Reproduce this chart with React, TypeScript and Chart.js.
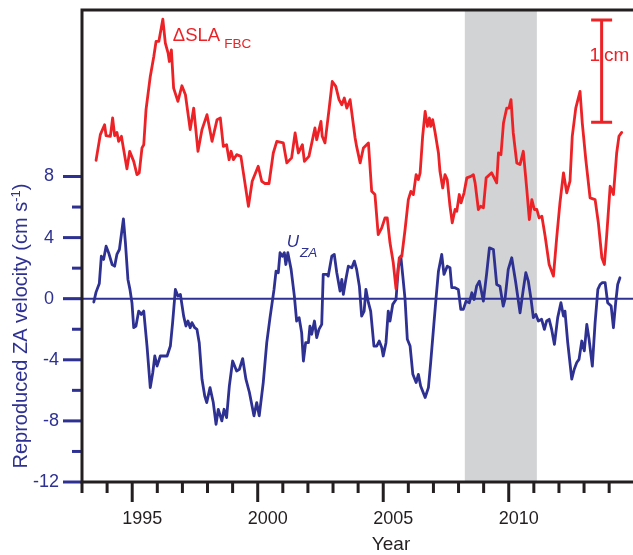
import React, { useEffect, useRef } from 'react';
import { Chart, registerables } from 'chart.js';

Chart.register(...registerables);

// ΔSLA_FBC (red, plotted on the same axis with an arbitrary offset)
const slaYears = [
  1993.56, 1993.73, 1993.90, 1993.96, 1994.13, 1994.22, 1994.30, 1994.39, 1994.46, 1994.57,
  1994.66, 1994.79, 1994.90, 1995.06, 1995.19, 1995.28, 1995.39, 1995.46, 1995.55, 1995.72,
  1995.86, 1995.95, 1996.06, 1996.22, 1996.32, 1996.43, 1996.48, 1996.56, 1996.65, 1996.82,
  1996.98, 1997.12, 1997.31, 1997.45, 1997.62, 1997.78, 1997.98, 1998.18, 1998.38, 1998.51,
  1998.63, 1998.76, 1998.86, 1998.94, 1999.03, 1999.16, 1999.33, 1999.49, 1999.63, 1999.78,
  2000.02, 2000.16, 2000.29, 2000.45, 2000.62, 2000.76, 2001.02, 2001.16, 2001.35, 2001.49,
  2001.62, 2001.78, 2001.86, 2002.04, 2002.28, 2002.35, 2002.52, 2002.57, 2002.68, 2002.84,
  2002.97, 2003.11, 2003.24, 2003.35, 2003.45, 2003.55, 2003.68, 2003.88, 2003.94, 2004.08,
  2004.21, 2004.41, 2004.54, 2004.67, 2004.80, 2004.94, 2005.07, 2005.16, 2005.27, 2005.40,
  2005.51, 2005.64, 2005.74, 2005.87, 2006.00, 2006.10, 2006.20, 2006.31, 2006.40, 2006.47,
  2006.57, 2006.67, 2006.76, 2006.84, 2006.89, 2006.97, 2007.06, 2007.20, 2007.26, 2007.37,
  2007.46, 2007.55, 2007.66, 2007.75, 2007.86, 2007.93, 2008.03, 2008.10, 2008.22, 2008.33,
  2008.49, 2008.59, 2008.66, 2008.79, 2008.88, 2008.99, 2009.10, 2009.32, 2009.52, 2009.59,
  2009.69, 2009.79, 2009.92, 2010.01, 2010.09, 2010.18, 2010.32, 2010.45, 2010.58, 2010.72,
  2010.82, 2010.92, 2011.02, 2011.12, 2011.21, 2011.32, 2011.45, 2011.61, 2011.78, 2011.91,
  2012.04, 2012.18, 2012.31, 2012.44, 2012.53, 2012.67, 2012.84, 2012.93, 2013.07, 2013.24,
  2013.44, 2013.57, 2013.71, 2013.81, 2013.90, 2014.04, 2014.17, 2014.30, 2014.39, 2014.50,
];
const slaValues = [
  9.06, 10.74, 11.39, 10.67, 10.63, 11.83, 10.67, 10.89, 10.30, 10.63,
  9.76, 8.50, 9.65, 8.99, 8.12, 8.24, 9.87, 10.08, 12.37, 14.55,
  15.86, 16.84, 16.84, 18.30, 16.73, 16.08, 15.53, 16.29, 13.79, 12.92,
  13.94, 13.35, 11.07, 12.48, 9.65, 11.07, 12.05, 10.30, 11.72, 11.83,
  9.97, 10.08, 9.10, 9.65, 9.10, 9.43, 9.32, 7.58, 6.05, 7.69,
  8.67, 7.69, 7.54, 7.54, 9.54, 10.30, 10.20, 8.89, 9.22, 10.85,
  9.54, 10.08, 8.99, 9.32, 11.18, 10.41, 11.61, 10.63, 10.20, 12.37,
  14.22, 13.90, 13.03, 12.70, 13.14, 12.48, 13.03, 10.52, 9.97, 8.89,
  9.87, 10.20, 7.03, 6.82, 4.20, 4.64, 5.29, 5.29, 3.66, 2.35,
  0.65, 2.68, 2.78, 4.53, 6.49, 7.03, 6.82, 8.12, 7.80, 8.24,
  10.63, 12.26, 11.28, 11.83, 11.28, 11.72, 10.95, 9.54, 8.34, 7.25,
  8.12, 7.80, 6.05, 4.97, 5.84, 5.73, 6.82, 6.27, 6.93, 7.91,
  8.01, 8.12, 7.58, 5.84, 6.05, 5.95, 7.91, 8.24, 7.58, 9.54,
  9.43, 11.50, 12.48, 12.48, 13.03, 10.85, 8.89, 8.78, 9.65, 7.14,
  5.18, 6.49, 5.84, 5.84, 5.29, 5.40, 4.09, 2.24, 1.48, 3.99,
  6.27, 8.24, 6.93, 7.69, 10.63, 12.48, 13.57, 11.50, 9.10, 6.60,
  6.49, 4.97, 2.68, 2.24, 4.09, 7.36, 6.82, 9.54, 10.63, 10.89,
];

// U_ZA reproduced velocity (blue, cm s-1)
const uzaYears = [
  1993.47, 1993.56, 1993.69, 1993.77, 1993.86, 1993.96, 1994.06, 1994.20, 1994.30, 1994.39,
  1994.49, 1994.65, 1994.73, 1994.83, 1994.91, 1994.99, 1995.06, 1995.15, 1995.26, 1995.36,
  1995.46, 1995.59, 1995.72, 1995.82, 1995.90, 1995.99, 1996.12, 1996.39, 1996.52, 1996.61,
  1996.72, 1996.82, 1996.92, 1997.05, 1997.14, 1997.22, 1997.31, 1997.38, 1997.49, 1997.58,
  1997.67, 1997.78, 1997.89, 1997.97, 1998.10, 1998.23, 1998.34, 1998.43, 1998.57, 1998.66,
  1998.76, 1998.87, 1999.00, 1999.16, 1999.27, 1999.40, 1999.53, 1999.67, 1999.85, 1999.96,
  2000.06, 2000.22, 2000.36, 2000.49, 2000.65, 2000.73, 2000.82, 2000.89, 2000.98, 2001.06,
  2001.12, 2001.20, 2001.33, 2001.46, 2001.55, 2001.65, 2001.75, 2001.82, 2001.91, 2002.02,
  2002.08, 2002.15, 2002.26, 2002.35, 2002.44, 2002.55, 2002.61, 2002.75, 2002.81, 2002.95,
  2003.05, 2003.15, 2003.28, 2003.35, 2003.41, 2003.51, 2003.61, 2003.75, 2003.85, 2003.94,
  2004.05, 2004.14, 2004.24, 2004.31, 2004.41, 2004.50, 2004.63, 2004.74, 2004.84, 2004.94,
  2005.00, 2005.11, 2005.20, 2005.27, 2005.38, 2005.51, 2005.60, 2005.70, 2005.78, 2005.87,
  2005.96, 2006.07, 2006.18, 2006.31, 2006.40, 2006.49, 2006.67, 2006.80, 2006.89, 2007.00,
  2007.10, 2007.20, 2007.33, 2007.42, 2007.55, 2007.66, 2007.73, 2007.86, 2007.99, 2008.09,
  2008.19, 2008.30, 2008.43, 2008.53, 2008.62, 2008.72, 2008.83, 2008.99, 2009.12, 2009.23,
  2009.39, 2009.52, 2009.65, 2009.78, 2009.85, 2009.98, 2010.12, 2010.28, 2010.45, 2010.58,
  2010.68, 2010.78, 2010.89, 2010.98, 2011.08, 2011.18, 2011.31, 2011.42, 2011.51, 2011.61,
  2011.71, 2011.82, 2011.95, 2012.08, 2012.18, 2012.24, 2012.35, 2012.51, 2012.61, 2012.71,
  2012.80, 2012.91, 2013.01, 2013.11, 2013.20, 2013.33, 2013.44, 2013.55, 2013.64, 2013.73,
  2013.84, 2013.94, 2014.08, 2014.17, 2014.26, 2014.34, 2014.43,
];
const uzaValues = [
  -0.22, 0.43, 1.00, 2.78, 2.57, 3.44, 3.01, 2.24, 2.13, 2.90,
  3.22, 5.23, 3.66, 1.26, 0.61, -0.26, -1.90, -1.79, -0.81, -1.03,
  -0.81, -3.10, -5.82, -4.84, -3.75, -4.41, -3.75, -3.75, -3.10, -1.57,
  0.61, 0.17, 0.28, -1.14, -1.79, -1.46, -1.90, -1.57, -1.90, -2.01,
  -2.88, -5.28, -6.37, -6.80, -5.82, -6.80, -8.22, -7.24, -8.00, -7.24,
  -7.78, -5.71, -4.08, -4.73, -4.62, -3.92, -5.27, -6.14, -7.67, -6.80,
  -7.67, -5.49, -2.88, -1.24, 0.61, 1.80, 1.70, 3.01, 2.78, 3.01,
  2.24, 3.01, 1.92, 0.17, -1.46, -1.24, -2.22, -4.08, -2.88, -2.88,
  -1.79, -2.33, -1.46, -2.55, -2.01, -1.68, 1.59, 1.59, 1.48, 2.78,
  2.90, 1.70, 0.50, 1.26, 0.28, 1.26, 2.13, 2.03, 2.46, 1.92,
  0.82, -1.14, -0.81, 0.61, -0.26, -0.81, -3.10, -3.10, -2.77, -3.20,
  -3.75, -2.88, -0.81, -1.46, -0.37, -0.05, 2.03, 2.78, 1.48, -0.05,
  -2.66, -3.10, -4.95, -5.49, -4.95, -5.71, -6.47, -5.82, -4.18, -2.01,
  -0.05, 1.80, 2.90, 1.59, 2.13, 2.03, 0.72, 0.72, 0.61, -0.70,
  -0.70, -0.16, -0.26, 0.39, -0.05, 0.82, 1.15, -0.16, 1.65, 3.33,
  3.22, 0.93, 0.82, -0.48, -0.05, 1.92, 2.68, 1.05, -0.92, 0.61,
  1.70, 1.15, -0.05, -1.24, -1.03, -1.46, -1.35, -2.01, -1.46, -1.35,
  -2.01, -2.99, -1.24, -0.26, -1.14, -0.81, -2.88, -5.27, -4.62, -4.18,
  -3.97, -2.77, -3.42, -1.68, -2.66, -4.41, -1.57, 0.61, 0.93, 1.05,
  1.05, -0.26, -0.48, -1.90, -0.26, 0.93, 1.37,
];

const yTickValues = [-12, -10, -8, -6, -4, -2, 0, 2, 4, 6, 8];
const xTickYears = [
  1993, 1994, 1995, 1996, 1997, 1998, 1999, 2000, 2001, 2002, 2003,
  2004, 2005, 2006, 2007, 2008, 2009, 2010, 2011, 2012, 2013, 2014,
];
const shadeStart = 2008.25;
const shadeEnd = 2011.12;
const scaleBarYear = 2013.7;
const scaleBarBottom = 11.55;
const scaleBarTop = 18.25;

const RED = '#ec2227';
const BLUE = '#2e3192';
const INK = '#231f20';
const GRAY = '#d1d3d4';
const FONT = '"Liberation Sans", Arial, Helvetica, sans-serif';

const decorPlugin = {
  id: 'decor',
  beforeDatasetsDraw(chart: any) {
    const { ctx, chartArea: a, scales } = chart;
    const x = scales.x;
    const y = scales.y;
    ctx.save();
    const x0 = x.getPixelForValue(shadeStart);
    const x1 = x.getPixelForValue(shadeEnd);
    ctx.fillStyle = GRAY;
    ctx.fillRect(x0, a.top, x1 - x0, a.bottom - a.top);
    const y0 = y.getPixelForValue(0);
    ctx.strokeStyle = BLUE;
    ctx.lineWidth = 2;
    ctx.beginPath();
    ctx.moveTo(a.left - 19, y0);
    ctx.lineTo(a.right, y0);
    ctx.stroke();
    ctx.restore();
  },
  afterDatasetsDraw(chart: any) {
    const { ctx, chartArea: a, scales } = chart;
    const x = scales.x;
    const y = scales.y;
    ctx.save();
    ctx.lineCap = 'butt';

    // y ticks (blue)
    ctx.strokeStyle = BLUE;
    ctx.lineWidth = 3;
    yTickValues.forEach((v) => {
      const yy = y.getPixelForValue(v);
      const len = v % 4 === 0 ? 19 : 10;
      ctx.beginPath();
      ctx.moveTo(a.left - len, yy);
      ctx.lineTo(a.left, yy);
      ctx.stroke();
    });

    // x ticks (black)
    ctx.strokeStyle = INK;
    xTickYears.forEach((yr) => {
      const xx = x.getPixelForValue(yr);
      const len = yr % 5 === 0 ? 20 : 11;
      ctx.beginPath();
      ctx.moveTo(xx, a.bottom);
      ctx.lineTo(xx, a.bottom + len);
      ctx.stroke();
    });

    // frame: left axis, bottom axis, top border
    ctx.lineWidth = 3;
    ctx.beginPath();
    ctx.moveTo(a.left, a.top - 1.5);
    ctx.lineTo(a.left, a.bottom + 1.5);
    ctx.moveTo(a.left - 1.5, a.bottom);
    ctx.lineTo(a.right, a.bottom);
    ctx.moveTo(a.left - 1.5, a.top);
    ctx.lineTo(a.right, a.top);
    ctx.stroke();

    // 1 cm scale bar
    const bx = x.getPixelForValue(scaleBarYear);
    const bt = y.getPixelForValue(scaleBarTop);
    const bb = y.getPixelForValue(scaleBarBottom);
    ctx.strokeStyle = RED;
    ctx.lineWidth = 3;
    ctx.beginPath();
    ctx.moveTo(bx, bt);
    ctx.lineTo(bx, bb);
    ctx.moveTo(bx - 10.5, bt);
    ctx.lineTo(bx + 10.5, bt);
    ctx.moveTo(bx - 10.5, bb);
    ctx.lineTo(bx + 10.5, bb);
    ctx.stroke();
    ctx.fillStyle = RED;
    ctx.font = `19px ${FONT}`;
    ctx.textBaseline = 'alphabetic';
    const tb = bt + 41;
    ctx.textAlign = 'right';
    ctx.fillText('1', bx - 1.5, tb);
    ctx.textAlign = 'left';
    ctx.fillText('cm', bx + 2.5, tb);

    // ΔSLA_FBC label
    ctx.textAlign = 'left';
    ctx.fillStyle = RED;
    ctx.font = `18.5px ${FONT}`;
    const lx = x.getPixelForValue(1996.62);
    const ly = y.getPixelForValue(16.9);
    ctx.fillText('ΔSLA', lx, ly);
    const w = ctx.measureText('ΔSLA').width;
    ctx.font = `13.5px ${FONT}`;
    ctx.fillText('FBC', lx + w + 4, ly + 7.5);

    // U_ZA label
    ctx.fillStyle = BLUE;
    ctx.font = `italic 17px ${FONT}`;
    const ux = x.getPixelForValue(2001.16);
    const uy = y.getPixelForValue(3.4);
    ctx.fillText('U', ux, uy);
    const uw = ctx.measureText('U').width;
    ctx.font = `italic 13.5px ${FONT}`;
    ctx.fillText('ZA', ux + uw + 1, uy + 10.5);

    // x axis title
    ctx.fillStyle = INK;
    ctx.font = `19px ${FONT}`;
    ctx.textAlign = 'center';
    ctx.fillText('Year', x.getPixelForValue(2005.31), a.bottom + 68);

    // y axis title (rotated, with superscript)
    const main = 'Reproduced ZA velocity (cm s';
    const sup = '-1';
    const end = ')';
    ctx.font = `20px ${FONT}`;
    const mw = ctx.measureText(main).width;
    const ew = ctx.measureText(end).width;
    ctx.font = `13px ${FONT}`;
    const sw = ctx.measureText(sup).width;
    const total = mw + sw + ew;
    ctx.translate(a.left - 55.5, y.getPixelForValue(-1.79));
    ctx.rotate(-Math.PI / 2);
    ctx.fillStyle = BLUE;
    ctx.textAlign = 'left';
    let cx = -total / 2;
    ctx.font = `20px ${FONT}`;
    ctx.fillText(main, cx, 0);
    cx += mw;
    ctx.font = `13px ${FONT}`;
    ctx.fillText(sup, cx, -7);
    cx += sw;
    ctx.font = `20px ${FONT}`;
    ctx.fillText(end, cx, 0);
    ctx.restore();
  },
};

export default function App() {
  const canvasRef = useRef<HTMLCanvasElement | null>(null);

  useEffect(() => {
    const canvas = canvasRef.current;
    if (!canvas) return;
    const chart = new Chart(canvas, {
      type: 'line',
      data: {
        datasets: [
          {
            label: 'ΔSLA FBC',
            data: slaYears.map((yr, i) => ({ x: yr, y: slaValues[i] })),
            borderColor: RED,
            borderWidth: 2.8,
            pointRadius: 0,
            tension: 0,
            fill: false,
            borderJoinStyle: 'round',
            borderCapStyle: 'round',
          },
          {
            label: 'U ZA',
            data: uzaYears.map((yr, i) => ({ x: yr, y: uzaValues[i] })),
            borderColor: BLUE,
            borderWidth: 2.8,
            pointRadius: 0,
            tension: 0,
            fill: false,
            borderJoinStyle: 'round',
            borderCapStyle: 'round',
          },
        ],
      },
      options: {
        animation: false,
        responsive: false,
        devicePixelRatio: 1,
        layout: { padding: { top: 10, right: 0, bottom: 0, left: 0 } },
        plugins: { legend: { display: false }, tooltip: { enabled: false } },
        scales: {
          x: {
            type: 'linear',
            min: 1993,
            max: 2014.95,
            grid: { display: false, drawTicks: false, tickLength: 0 },
            border: { display: false },
            afterBuildTicks: (s: any) => {
              s.ticks = xTickYears.map((v) => ({ value: v }));
            },
            afterFit: (s: any) => {
              s.height = 73;
              s.paddingLeft = 0;
              s.paddingRight = 0;
              s.paddingTop = 0;
              s.paddingBottom = 0;
            },
            ticks: {
              autoSkip: false,
              maxRotation: 0,
              minRotation: 0,
              padding: 26,
              labelOffset: 10,
              color: INK,
              font: { family: FONT, size: 18 },
              callback: (v: any) => (Number(v) % 5 === 0 ? String(v) : ''),
            },
          },
          y: {
            type: 'linear',
            min: -12,
            max: 18.9,
            grid: { display: false, drawTicks: false, tickLength: 0 },
            border: { display: false },
            afterBuildTicks: (s: any) => {
              s.ticks = yTickValues.map((v) => ({ value: v }));
            },
            afterFit: (s: any) => {
              s.width = 82;
              s.paddingLeft = 0;
              s.paddingRight = 0;
              s.paddingTop = 0;
              s.paddingBottom = 0;
            },
            ticks: {
              autoSkip: false,
              padding: 23,
              color: BLUE,
              font: { family: FONT, size: 18 },
              callback: (v: any) => {
                const n = Number(v);
                if (n % 4 !== 0) return '';
                return n < 0 ? String(n) : String(n) + ' ';
              },
            },
          },
        },
      },
      plugins: [decorPlugin],
    } as any);
    return () => chart.destroy();
  }, []);

  return (
    <div style={{ position: 'absolute', left: 0, top: 0, width: 633, height: 555, background: '#fff' }}>
      <canvas ref={canvasRef} width={633} height={555} style={{ display: 'block' }} />
    </div>
  );
}
